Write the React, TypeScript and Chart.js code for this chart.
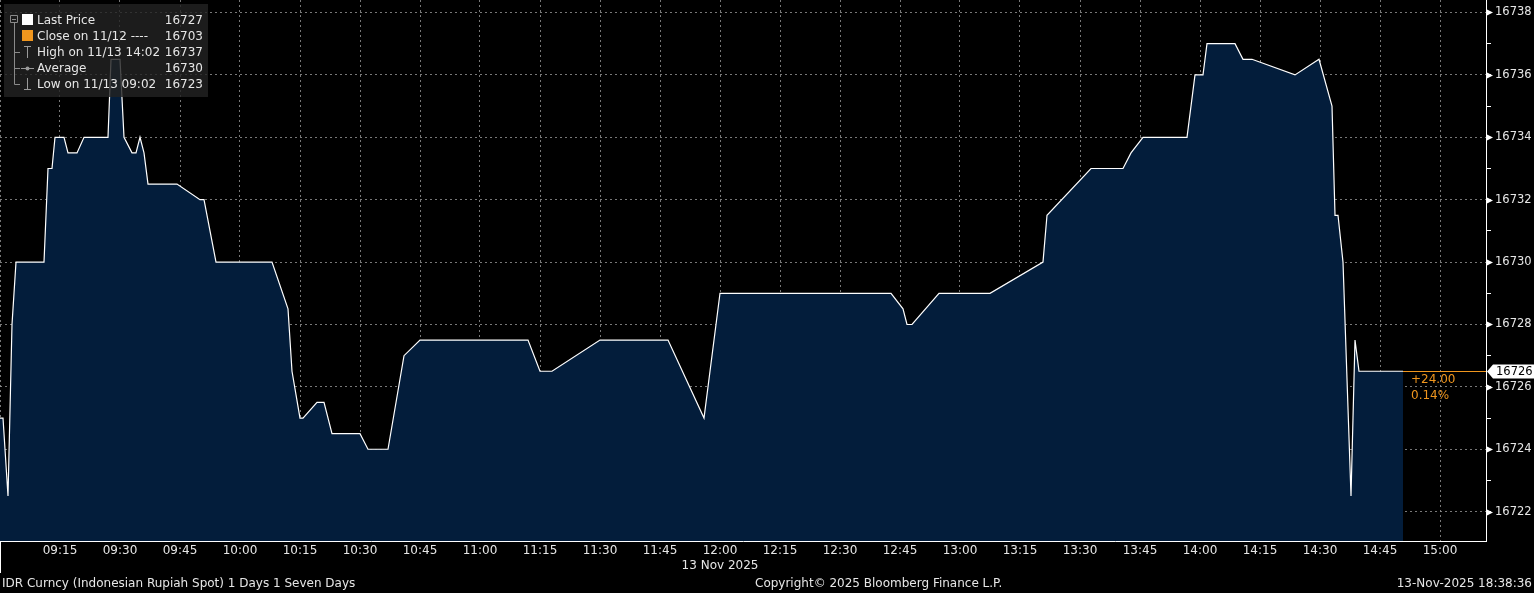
import React, { useEffect, useRef } from 'react';
import { Chart, registerables } from 'chart.js';

Chart.register(...registerables);

// ---- data ----
const times = [
  '09:00:00', '09:00:45', '09:02:00', '09:03:00', '09:04:00', '09:11:00', '09:12:00', '09:13:00',
  '09:13:45', '09:16:00', '09:17:00', '09:19:15', '09:21:00', '09:27:00', '09:27:45', '09:30:00',
  '09:31:00', '09:33:00', '09:34:00', '09:35:00', '09:36:00', '09:37:00', '09:44:15', '09:50:00',
  '09:51:00', '09:54:00', '10:08:00', '10:12:00', '10:13:00', '10:15:00', '10:15:45', '10:19:15',
  '10:21:00', '10:23:00', '10:30:00', '10:32:00', '10:37:00', '10:41:00', '10:45:00', '11:12:00',
  '11:15:00', '11:18:00', '11:30:00', '11:47:00', '11:56:00', '12:00:00', '12:42:45', '12:45:45',
  '12:46:45', '12:48:00', '12:54:45', '13:07:30', '13:20:45', '13:21:45', '13:32:45', '13:40:45',
  '13:42:45', '13:45:45', '13:56:45', '13:58:45', '14:00:45', '14:01:45', '14:08:45', '14:10:45',
  '14:13:00', '14:23:45', '14:29:45', '14:33:00', '14:33:45', '14:34:30', '14:35:45', '14:37:45',
  '14:38:45', '14:39:45', '14:50:45',
];
const prices = [
  16725, 16725, 16722.5, 16728, 16730, 16730, 16733, 16733,
  16734, 16734, 16733.5, 16733.5, 16734, 16734, 16736.5, 16736.5,
  16734, 16733.5, 16733.5, 16734, 16733.5, 16732.5, 16732.5, 16732,
  16732, 16730, 16730, 16728.5, 16726.5, 16725, 16725, 16725.5,
  16725.5, 16724.5, 16724.5, 16724, 16724, 16727, 16727.5, 16727.5,
  16726.5, 16726.5, 16727.5, 16727.5, 16725, 16729, 16729, 16728.5,
  16728, 16728, 16729, 16729, 16730, 16731.5, 16733, 16733,
  16733.5, 16734, 16734, 16736, 16736, 16737, 16737, 16736.5,
  16736.5, 16736, 16736.5, 16735, 16731.5, 16731.5, 16730, 16722.5,
  16727.5, 16726.5, 16726.5,
];

const xTickLabels = [
  '09:00', '09:15', '09:30', '09:45', '10:00', '10:15', '10:30', '10:45', '11:00', '11:15', '11:30',
  '11:45', '12:00', '12:15', '12:30', '12:45', '13:00', '13:15', '13:30', '13:45', '14:00', '14:15',
  '14:30', '14:45', '15:00',
];
const yTickLabels = [16722, 16724, 16726, 16728, 16730, 16732, 16734, 16736, 16738];

const legendNames = ['Last Price', 'Close on 11/12 ----', 'High on 11/13 14:02', 'Average', 'Low on 11/13 09:02'];
const legendValues = ['16727', '16703', '16737', '16730', '16723'];
const lastPriceTag = '16726';
const changeLabels = ['+24.00', '0.14%'];
const dateLabel = '13 Nov 2025';
const dateLabelAt = '12:00';
const footerLeft = 'IDR Curncy (Indonesian Rupiah Spot) 1 Days 1 Seven Days';
const footerCenter = 'Copyright\u00A9 2025 Bloomberg Finance L.P.';
const footerRight = '13-Nov-2025 18:38:36';

const X_START = '09:00';
const X_END = '15:11:30';
const Y_MIN = 16721.06;
const Y_MAX = 16738.4;

const FONT = '"DejaVu Sans", sans-serif';
const ORANGE = '#f0961e';
const TEXT = '#e6e6e6';

const toMin = (t: string) => {
  const [h, m, s] = t.split(':').map(Number);
  return h * 60 + m + (s || 0) / 60;
};

const zeroPad = (s: any) => {
  s.paddingLeft = 0;
  s.paddingRight = 0;
  s.paddingTop = 0;
  s.paddingBottom = 0;
};

const overlayPlugin = {
  id: 'bbgOverlay',
  afterDraw(chart: any) {
    const ctx = chart.ctx as CanvasRenderingContext2D;
    const area = chart.chartArea;
    const xs = chart.scales.x;
    const ys = chart.scales.y;
    ctx.save();

    // orange line from last point to axis
    const lastX = xs.getPixelForValue(toMin(times[times.length - 1]));
    const lastY = ys.getPixelForValue(prices[prices.length - 1]);
    ctx.strokeStyle = ORANGE;
    ctx.lineWidth = 1;
    ctx.beginPath();
    ctx.moveTo(lastX, Math.round(lastY) + 0.5);
    ctx.lineTo(area.right, Math.round(lastY) + 0.5);
    ctx.stroke();

    ctx.font = `12px ${FONT}`;
    ctx.fillStyle = ORANGE;
    ctx.textBaseline = 'middle';
    ctx.textAlign = 'left';
    ctx.fillText(changeLabels[0], lastX + 8, lastY + 9);
    ctx.fillText(changeLabels[1], lastX + 8, lastY + 25);

    // arrow markers on labelled y ticks
    ctx.fillStyle = '#ffffff';
    yTickLabels.forEach((v) => {
      const y = Math.round(ys.getPixelForValue(v)) + 0.5;
      ctx.beginPath();
      ctx.moveTo(area.right, y - 3.5);
      ctx.lineTo(area.right + 7, y);
      ctx.lineTo(area.right, y + 3.5);
      ctx.closePath();
      ctx.fill();
    });

    // last price tag
    const ty = Math.round(lastY) + 0.5;
    ctx.fillStyle = '#ffffff';
    ctx.beginPath();
    ctx.moveTo(area.right + 1, ty);
    ctx.lineTo(area.right + 7, ty - 7);
    ctx.lineTo(chart.width, ty - 7);
    ctx.lineTo(chart.width, ty + 7);
    ctx.lineTo(area.right + 7, ty + 7);
    ctx.closePath();
    ctx.fill();
    ctx.fillStyle = '#000000';
    ctx.font = `11.5px ${FONT}`;
    ctx.fillText(lastPriceTag, area.right + 10, ty + 0.5);

    // legend box
    ctx.fillStyle = 'rgba(34,34,34,0.82)';
    ctx.fillRect(4, 4, 204, 93);
    const rowY = [20, 36, 52, 68, 84];
    ctx.strokeStyle = '#8a8a8a';
    ctx.lineWidth = 1;
    // tree
    ctx.beginPath();
    ctx.rect(10.5, 15.5, 7, 7);
    ctx.moveTo(12, 19.5);
    ctx.lineTo(16, 19.5);
    ctx.moveTo(14.5, 23);
    ctx.lineTo(14.5, 84.5);
    [52, 68, 84].forEach((y) => {
      ctx.moveTo(14.5, y + 0.5);
      ctx.lineTo(20, y + 0.5);
    });
    ctx.stroke();
    // icons
    ctx.fillStyle = '#ffffff';
    ctx.fillRect(22, 14, 11, 11);
    ctx.fillStyle = ORANGE;
    ctx.fillRect(22, 30, 11, 11);
    ctx.strokeStyle = '#9a9a9a';
    ctx.beginPath();
    ctx.moveTo(24, 46.5); ctx.lineTo(31, 46.5);
    ctx.moveTo(27.5, 46.5); ctx.lineTo(27.5, 58);
    ctx.moveTo(21, 68.5); ctx.lineTo(34, 68.5);
    ctx.moveTo(27.5, 78); ctx.lineTo(27.5, 89.5);
    ctx.moveTo(24, 89.5); ctx.lineTo(31, 89.5);
    ctx.stroke();
    ctx.fillStyle = '#9a9a9a';
    ctx.beginPath();
    ctx.arc(27.5, 68.5, 2, 0, Math.PI * 2);
    ctx.fill();
    // text
    ctx.font = `12px ${FONT}`;
    ctx.fillStyle = TEXT;
    legendNames.forEach((n, i) => {
      ctx.textAlign = 'left';
      ctx.fillText(n, 37, rowY[i] + 1);
      ctx.textAlign = 'right';
      ctx.fillText(legendValues[i], 203, rowY[i] + 1);
    });

    // date label and footer
    ctx.fillStyle = TEXT;
    ctx.textAlign = 'center';
    ctx.fillText(dateLabel, xs.getPixelForValue(toMin(dateLabelAt)), 566);
    ctx.textAlign = 'left';
    ctx.fillText(footerLeft, 2, 584);
    ctx.fillText(footerCenter, 755, 584);
    ctx.textAlign = 'right';
    ctx.fillText(footerRight, chart.width - 2, 584);

    // left edge white line below axis
    ctx.strokeStyle = '#ffffff';
    ctx.beginPath();
    ctx.moveTo(0.5, area.bottom);
    ctx.lineTo(0.5, 573);
    ctx.stroke();

    ctx.restore();
  },
};

export default function App() {
  const canvasRef = useRef<HTMLCanvasElement | null>(null);

  useEffect(() => {
    if (!canvasRef.current) return;
    const data = times.map((t, i) => ({ x: toMin(t), y: prices[i] }));
    const gridColor = 'rgba(150,150,150,0.8)';
    const chart = new Chart(canvasRef.current, {
      type: 'line',
      data: {
        datasets: [
          {
            data,
            borderColor: '#ffffff',
            borderWidth: 1.2,
            backgroundColor: '#031d3b',
            fill: 'start',
            pointRadius: 0,
            tension: 0,
          },
        ],
      },
      options: {
        animation: false,
        responsive: false,
        devicePixelRatio: 1,
        parsing: false,
        normalized: true,
        layout: { padding: 0, autoPadding: false },
        plugins: { legend: { display: false }, tooltip: { enabled: false }, title: { display: false } },
        scales: {
          x: {
            type: 'linear',
            position: 'bottom',
            min: toMin(X_START),
            max: toMin(X_END),
            z: 1,
            afterFit: (s: any) => {
              s.height = 52;
              zeroPad(s);
            },
            afterBuildTicks: (s: any) => {
              s.ticks = xTickLabels.map((t) => ({ value: toMin(t) }));
            },
            ticks: {
              autoSkip: false,
              maxRotation: 0,
              padding: 3,
              color: TEXT,
              font: { family: FONT, size: 12 },
              callback: (_v: any, i: number) => (i === 0 ? '' : xTickLabels[i]),
            },
            grid: {
              color: gridColor,
              lineWidth: 1,
              drawTicks: false,
              tickLength: 0,
            },
            border: { display: true, color: '#ffffff', width: 1, dash: [2, 3] },
          } as any,
          y: {
            type: 'linear',
            position: 'right',
            min: Y_MIN,
            max: Y_MAX,
            z: 1,
            afterFit: (s: any) => {
              s.width = 48;
              zeroPad(s);
            },
            ticks: {
              stepSize: 1,
              includeBounds: false,
              autoSkip: false,
              padding: 4,
              color: TEXT,
              font: { family: FONT, size: 11.5 },
              callback: (v: any) => {
                const r = Math.round(Number(v));
                return Math.abs(Number(v) - r) < 1e-6 && yTickLabels.includes(r) ? String(r) : '';
              },
            },
            grid: {
              color: (c: any) => {
                const v = c.tick ? Number(c.tick.value) : 0;
                const r = Math.round(v);
                return yTickLabels.includes(r) && Math.abs(v - r) < 1e-6 ? gridColor : 'rgba(0,0,0,0)';
              },
              tickColor: '#ffffff',
              tickLength: 5,
              lineWidth: 1,
            },
            border: { display: true, color: '#ffffff', width: 1, dash: [2, 3] },
          } as any,
        },
      } as any,
      plugins: [overlayPlugin],
    });
    return () => chart.destroy();
  }, []);

  return (
    <div style={{ width: 1534, height: 593, background: '#000', position: 'relative' }}>
      <style>{'html,body{margin:0;padding:0;background:#000;}'}</style>
      <canvas ref={canvasRef} width={1534} height={593} style={{ display: 'block', width: 1534, height: 593 }} />
    </div>
  );
}
